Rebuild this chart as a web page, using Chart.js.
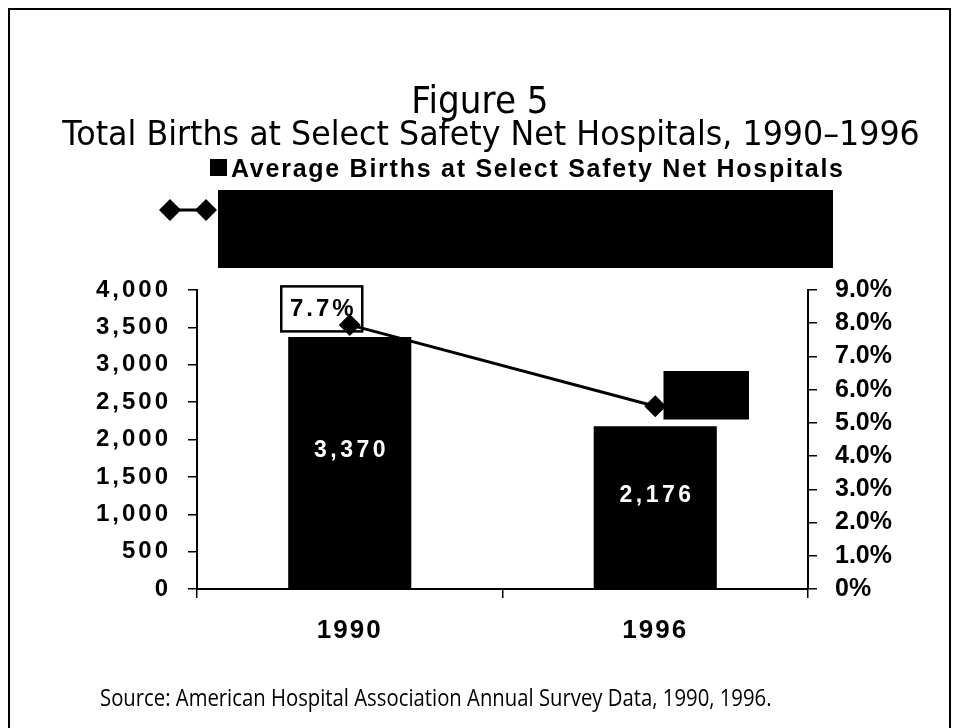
<!DOCTYPE html>
<html><head><meta charset="utf-8">
<script src="https://cdn.jsdelivr.net/npm/chart.js@4/dist/chart.umd.min.js"></script>
<style>html,body{margin:0;padding:0;background:#fff}</style>
</head><body>
<canvas id="c" width="958" height="728"></canvas>
<script>
// ---- data ----
const categories = ['1990', '1996'];
const births = [3370, 2176];
const birthLabels = ['3,370', '2,176'];
const shareValues = [7.95, 5.5];
const shareLabels = ['7.7%', '5.5%'];
const leftTicks = [0, 500, 1000, 1500, 2000, 2500, 3000, 3500, 4000];
const rightTicks = [0, 1, 2, 3, 4, 5, 6, 7, 8, 9];
const titleLines = ['Figure 5', 'Total Births at Select Safety Net Hospitals, 1990\u20131996'];
const barSeriesName = 'Average Births at Select Safety Net Hospitals';
const lineSeriesName = 'Births as a Share of Total';
const sourceText = 'Source: American Hospital Association Annual Survey Data, 1990, 1996.';

// ---- styling helpers ----
const AX = '"Liberation Sans", Arial, sans-serif';
const TF = '"DejaVu Sans", sans-serif';
const SF = '"Open Sans", sans-serif';
const tickSpacing = { x: '2px', y: '3px', y2: '0px' };

function fitSize(ctx, text, fontTpl, base, target) {
  ctx.save(); ctx.letterSpacing = '0px';
  ctx.font = fontTpl.replace('SZ', base);
  const w = ctx.measureText(text).width;
  ctx.restore();
  return base * target / w;
}
function spacedFit(ctx, text, target) {
  const w = ctx.measureText(text).width;
  return Math.max(0, (target - w) / Math.max(1, text.length - 1));
}
function stretchText(ctx, text, x, y, sy) {
  ctx.save(); ctx.translate(x, y); ctx.scale(1, sy); ctx.fillText(text, 0, 0); ctx.restore();
}

const spacedTicks = {
  id: 'spacedTicks',
  beforeDraw(chart) {
    for (const id in tickSpacing) {
      const s = chart.scales[id];
      if (!s || s._spPatched) continue;
      const orig = s.drawLabels.bind(s);
      s.drawLabels = function (area) {
        const c = this.ctx; c.save(); c.letterSpacing = tickSpacing[id];
        orig(area); c.restore();
      };
      s._spPatched = true;
    }
  }
};

const decor = {
  id: 'decor',
  beforeDraw(chart) {
    const ctx = chart.ctx;
    ctx.save();
    ctx.fillStyle = '#fff'; ctx.fillRect(0, 0, chart.width, chart.height);
    // frame
    ctx.strokeStyle = '#000'; ctx.lineWidth = 2;
    ctx.strokeRect(9, 9, 941, 780);
    // title
    ctx.fillStyle = '#000'; ctx.textAlign = 'center'; ctx.textBaseline = 'alphabetic';
    const ts = fitSize(ctx, titleLines[1], '400 SZpx ' + TF, 26, 858);
    ctx.font = '400 ' + (ts * 1.08) + 'px ' + TF;
    stretchText(ctx, titleLines[0], 480, 113, 1.08);
    ctx.font = '400 ' + ts + 'px ' + TF;
    stretchText(ctx, titleLines[1], 491, 145, 1.08);
    // legend row 1
    ctx.textAlign = 'left';
    ctx.fillRect(210, 159, 17, 17);
    ctx.font = 'bold 25px ' + AX;
    ctx.letterSpacing = spacedFit(ctx, barSeriesName, 612) + 'px';
    ctx.fillText(barSeriesName, 231, 177);
    ctx.letterSpacing = '0px';
    // legend row 2: line symbol + (blacked) label
    ctx.lineWidth = 3; ctx.beginPath(); ctx.moveTo(170, 210); ctx.lineTo(206, 210); ctx.stroke();
    for (const cx of [170, 206]) {
      ctx.beginPath(); ctx.moveTo(cx, 199); ctx.lineTo(cx + 11, 210); ctx.lineTo(cx, 221); ctx.lineTo(cx - 11, 210); ctx.closePath(); ctx.fill();
    }
    ctx.fillRect(218, 190, 615, 78);
    ctx.font = 'bold 22px ' + AX; ctx.fillStyle = '#000';
    ctx.fillText(lineSeriesName, 230, 235);
    // source
    ctx.fillStyle = '#000';
    const ss = fitSize(ctx, sourceText, '400 SZpx ' + SF, 18, 672);
    ctx.font = '400 ' + ss + 'px ' + SF;
    stretchText(ctx, sourceText, 100, 706, 1.12);
    ctx.restore();
  },
  beforeDatasetsDraw(chart) {
    // line value label boxes (under markers)
    const ctx = chart.ctx;
    const meta = chart.getDatasetMeta(0);
    const boxes = [
      { dx: -28, dy: -16, w: 81, h: 45, fill: '#fff' },
      { dx: 51, dy: -11, w: 83, h: 46, fill: '#000' }
    ];
    ctx.save();
    meta.data.forEach((pt, i) => {
      const b = boxes[i];
      const cx = pt.x + b.dx, cy = pt.y + b.dy;
      ctx.fillStyle = b.fill;
      ctx.fillRect(cx - b.w / 2, cy - b.h / 2, b.w, b.h);
      ctx.strokeStyle = '#000'; ctx.lineWidth = 2.5;
      ctx.strokeRect(cx - b.w / 2, cy - b.h / 2, b.w, b.h);
      ctx.fillStyle = '#000';
      ctx.font = 'bold 24px ' + AX;
      ctx.textAlign = 'center'; ctx.textBaseline = 'middle';
      ctx.letterSpacing = '3px';
      ctx.fillText(shareLabels[i], cx + 1.5, cy);
    });
    ctx.restore();
  },
  afterDatasetsDraw(chart) {
    const ctx = chart.ctx;
    const meta = chart.getDatasetMeta(1);
    ctx.save();
    ctx.fillStyle = '#fff';
    ctx.font = 'bold 23px ' + AX;
    ctx.textAlign = 'center'; ctx.textBaseline = 'middle';
    ctx.letterSpacing = '3.5px';
    meta.data.forEach((bar, i) => {
      const y = (bar.y + bar.base) / 2 - 12;
      ctx.fillText(birthLabels[i], bar.x + 1.75, y);
    });
    ctx.restore();
  }
};

const ctx = document.getElementById('c').getContext('2d');
new Chart(ctx, {
  data: {
    labels: categories,
    datasets: [
      {
        type: 'line', label: lineSeriesName, data: shareValues, yAxisID: 'y2',
        borderColor: '#000', borderWidth: 3, tension: 0,
        pointStyle: 'rectRot', pointRadius: 11, pointBackgroundColor: '#000', pointBorderColor: '#000', pointBorderWidth: 0,
        order: 0
      },
      {
        type: 'bar', label: barSeriesName, data: births, yAxisID: 'y',
        backgroundColor: '#000', borderWidth: 0,
        categoryPercentage: 0.403, barPercentage: 1.0,
        order: 1
      }
    ]
  },
  options: {
    responsive: false,
    animation: false,
    devicePixelRatio: 1,
    layout: { padding: { top: 290, left: 0, right: 0, bottom: 0 } },
    plugins: { legend: { display: false }, title: { display: false }, tooltip: { enabled: false } },
    scales: {
      x: {
        type: 'category', offset: true,
        grid: { offset: true, drawOnChartArea: false, drawTicks: true, tickLength: 9, color: '#000', lineWidth: 1.5 },
        border: { display: true, color: '#000', width: 2 },
        ticks: { color: '#000', font: { family: AX, weight: 'bold', size: 26 }, padding: 17 },
        afterFit(s) { s.height = 139; }
      },
      y: {
        position: 'left', min: 0, max: 4000,
        afterBuildTicks(s) { s.ticks = leftTicks.map(v => ({ value: v })); },
        grid: { drawOnChartArea: false, drawTicks: true, tickLength: 9, color: '#000', lineWidth: 1.5 },
        border: { display: true, color: '#000', width: 2 },
        ticks: { color: '#000', font: { family: AX, weight: 'bold', size: 24 }, padding: 17,
          callback: v => v.toLocaleString('en-US') },
        afterFit(s) { s.width = 197; }
      },
      y2: {
        position: 'right', min: 0, max: 9,
        afterBuildTicks(s) { s.ticks = rightTicks.map(v => ({ value: v })); },
        grid: { drawOnChartArea: false, drawTicks: true, tickLength: 9, color: '#000', lineWidth: 1.5 },
        border: { display: true, color: '#000', width: 2 },
        ticks: { color: '#000', font: { family: AX, weight: 'bold', size: 25 }, padding: 18,
          callback: v => v === 0 ? '0%' : v.toFixed(1) + '%' },
        afterFit(s) { s.width = 150; }
      }
    }
  },
  plugins: [spacedTicks, decor]
});
</script>
</body></html>
